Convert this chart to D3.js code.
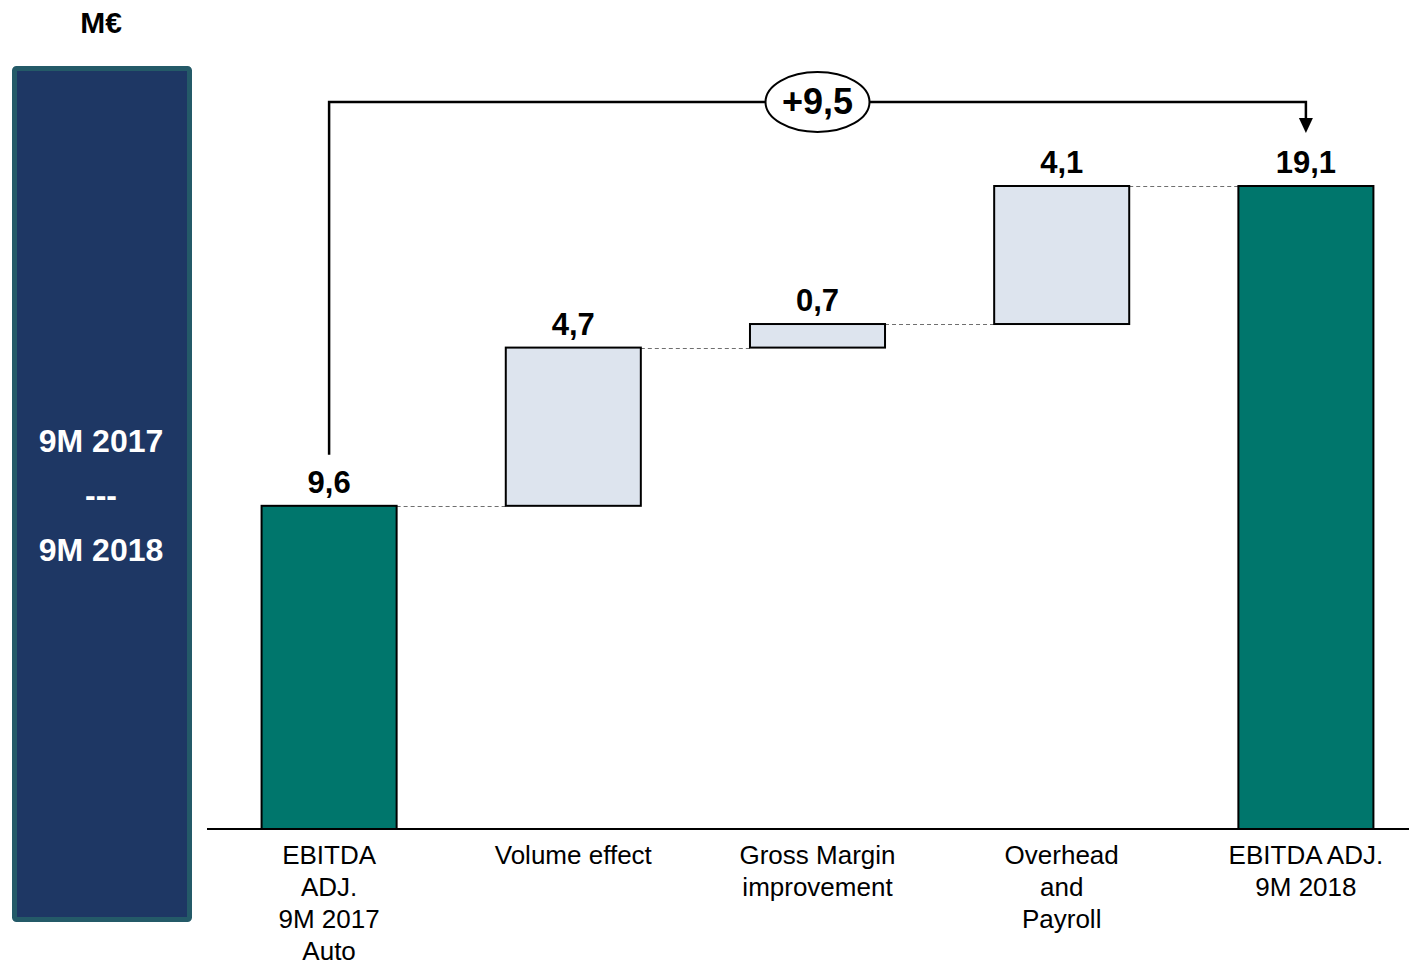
<!DOCTYPE html>
<html>
<head>
<meta charset="utf-8">
<script src="https://cdn.jsdelivr.net/npm/d3@7"></script>
<style>
  html, body { margin: 0; padding: 0; background: #ffffff; }
  svg { display: block; font-family: "Liberation Sans", Arial, sans-serif; }
</style>
</head>
<body>
<svg id="chart" width="1409" height="962"></svg>
<script>
// EBITDA bridge, M€
const categories = [
  ["EBITDA", "ADJ.", "9M 2017", "Auto"],
  ["Volume effect"],
  ["Gross Margin", "improvement"],
  ["Overhead", "and", "Payroll"],
  ["EBITDA ADJ.", "9M 2018"]
];
const stepValues = [9.6, 4.7, 0.7, 4.1, 19.1];
const stepKinds = ["total", "delta", "delta", "delta", "total"];
const valueLabels = ["9,6", "4,7", "0,7", "4,1", "19,1"];
const totalChange = "+9,5";
const unitLabel = "M€";
const periodLines = ["9M 2017", "---", "9M 2018"];

const svg = d3.select("#chart");
const W = 1409, H = 962;
const baseY = 829;

// Build waterfall segments
let running = 0;
const bars = stepValues.map((v, i) => {
  let lo, hi;
  if (stepKinds[i] === "total") { lo = 0; hi = v; running = v; }
  else { lo = running; hi = running + v; running = hi; }
  return { i, lo, hi, kind: stepKinds[i], label: valueLabels[i], cat: categories[i] };
});

const x = d3.scaleBand()
  .domain(d3.range(categories.length))
  .range([207, 1428])
  .paddingInner(0.447)
  .paddingOuter(0.2235);

const y = d3.scaleLinear().domain([0, 19.1]).range([baseY, 186]);

// Left period panel
svg.append("rect")
  .attr("x", 14.5).attr("y", 68.5)
  .attr("width", 175).attr("height", 851)
  .attr("rx", 2)
  .attr("fill", "#1e3764")
  .attr("stroke", "#245a68")
  .attr("stroke-width", 5);

svg.append("text")
  .attr("x", 101).attr("y", 33)
  .attr("text-anchor", "middle")
  .attr("font-size", 30).attr("font-weight", "bold")
  .attr("fill", "#000")
  .text(unitLabel);

const panelY = [452, 506, 561];
periodLines.forEach((t, k) => {
  svg.append("text")
    .attr("x", 101).attr("y", panelY[k])
    .attr("text-anchor", "middle")
    .attr("font-size", 32).attr("font-weight", "bold")
    .attr("fill", "#ffffff")
    .text(t);
});

// Dashed connectors between consecutive bars
for (let k = 0; k < bars.length - 1; k++) {
  const level = bars[k].hi;
  svg.append("line")
    .attr("x1", x(k) + x.bandwidth())
    .attr("x2", x(k + 1))
    .attr("y1", Math.round(y(level)) + 0.5)
    .attr("y2", Math.round(y(level)) + 0.5)
    .attr("stroke", "#6f6f6f")
    .attr("stroke-width", 1)
    .attr("stroke-dasharray", "4,3");
}

// Bars
svg.append("g").selectAll("rect")
  .data(bars)
  .join("rect")
  .attr("x", d => x(d.i))
  .attr("y", d => y(d.hi))
  .attr("width", x.bandwidth())
  .attr("height", d => y(d.lo) - y(d.hi))
  .attr("fill", d => d.kind === "total" ? "#00766c" : "#dde4ee")
  .attr("stroke", "#000")
  .attr("stroke-width", 2);

// Baseline
svg.append("line")
  .attr("x1", 207).attr("x2", W)
  .attr("y1", baseY).attr("y2", baseY)
  .attr("stroke", "#000").attr("stroke-width", 2);

// Value labels
svg.append("g").selectAll("text")
  .data(bars)
  .join("text")
  .attr("x", d => x(d.i) + x.bandwidth() / 2)
  .attr("y", d => y(d.hi) - 13)
  .attr("text-anchor", "middle")
  .attr("font-size", 31).attr("font-weight", "bold")
  .attr("fill", "#000")
  .text(d => d.label);

// Category labels
const catG = svg.append("g");
bars.forEach(d => {
  const t = catG.append("text")
    .attr("x", x(d.i) + x.bandwidth() / 2)
    .attr("y", 864)
    .attr("text-anchor", "middle")
    .attr("font-size", 26)
    .attr("fill", "#000");
  d.cat.forEach((line, k) => {
    t.append("tspan")
      .attr("x", x(d.i) + x.bandwidth() / 2)
      .attr("y", 864 + k * 32)
      .text(line);
  });
});

// Overall change bracket with arrow
const cx0 = x(0) + x.bandwidth() / 2;
const cx1 = x(4) + x.bandwidth() / 2;
const bracketY = 102;
svg.append("path")
  .attr("d", `M${cx0},${y(bars[0].hi) - 51} V${bracketY} H${cx1} V${y(bars[4].hi) - 68}`)
  .attr("fill", "none")
  .attr("stroke", "#000")
  .attr("stroke-width", 2.5);
svg.append("path")
  .attr("d", `M${cx1 - 7},${y(bars[4].hi) - 68} L${cx1 + 7},${y(bars[4].hi) - 68} L${cx1},${y(bars[4].hi) - 53} Z`)
  .attr("fill", "#000");

const midX = (x(2) + x.bandwidth() / 2);
svg.append("ellipse")
  .attr("cx", midX).attr("cy", bracketY)
  .attr("rx", 52).attr("ry", 30)
  .attr("fill", "#fff")
  .attr("stroke", "#000").attr("stroke-width", 2);
svg.append("text")
  .attr("x", midX).attr("y", bracketY + 12)
  .attr("text-anchor", "middle")
  .attr("font-size", 36).attr("font-weight", "bold")
  .attr("fill", "#000")
  .text(totalChange);
</script>
</body>
</html>
